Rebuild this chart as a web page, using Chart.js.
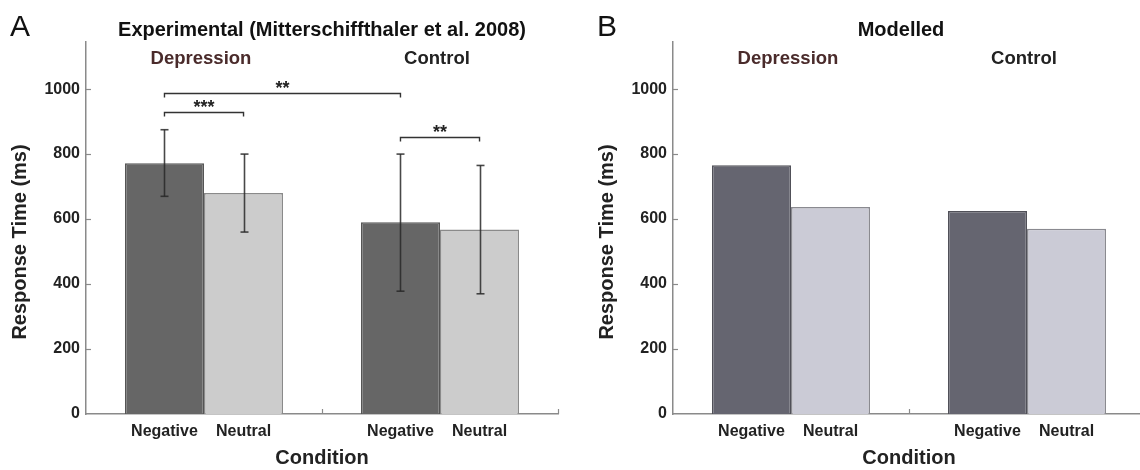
<!DOCTYPE html>
<html>
<head>
<meta charset="utf-8">
<script src="https://cdn.jsdelivr.net/npm/chart.js@4/dist/chart.umd.min.js"></script>
<style>
  body { margin: 0; width: 1140px; height: 470px; overflow: hidden; background: #fff; position: relative; }
  canvas { position: absolute; top: 0; }
  #chartA { left: 0; }
  #chartB { left: 587px; }
</style>
</head>
<body>
<canvas id="chartA" width="570" height="470"></canvas>
<canvas id="chartB" width="570" height="470"></canvas>
<script>
// groups and conditions
const groups = ['Depression', 'Control'];
const conditions = ['Negative', 'Neutral'];

// experimental data (ms)
const expNegative = [772, 590];
const expNeutral = [680, 568];
const expNegativeErr = [[670, 875], [378, 800]];
const expNeutralErr = [[560, 800], [370, 765]];

// significance brackets: [dataset, index, dataset, index, level, stars]
const expSig = [
  [0, 0, 0, 1, 988, '**'],
  [0, 0, 1, 0, 930, '***'],
  [0, 1, 1, 1, 852, '**']
];

// modelled data (ms)
const modNegative = [766, 625];
const modNeutral = [637, 570];

const yTicks = [0, 200, 400, 600, 800, 1000];
const yMax = 1145;

const FONT = '"Liberation Sans", Arial, sans-serif';

function makePanel(id, letter, title, titleShift, neg, neu, colors, errs, sig) {
  const extras = {
    id: 'extras',
    afterDraw(chart) {
      const ctx = chart.ctx, a = chart.chartArea;
      const xs = chart.scales.x, ys = chart.scales.y;
      const line = (x1, y1, x2, y2) => { ctx.beginPath(); ctx.moveTo(x1, y1); ctx.lineTo(x2, y2); ctx.stroke(); };
      ctx.save();

      // little inward tick marks
      ctx.strokeStyle = '#8a8a8a';
      ctx.lineWidth = 1.2;
      yTicks.forEach(v => {
        const py = Math.round(ys.getPixelForValue(v)) + 0.5;
        if (v > 0) line(a.left, py, a.left + 5, py);
      });
      for (let i = 1; i <= groups.length; i++) {
        const px = Math.round(a.left + (a.right - a.left) * i / groups.length) + 0.5;
        line(px, a.bottom, px, a.bottom - 5);
      }

      // error bars
      if (errs) {
        ctx.strokeStyle = 'rgba(40,40,40,0.85)';
        ctx.lineWidth = 1.6;
        errs.forEach((set, d) => {
          const meta = chart.getDatasetMeta(d);
          set.forEach((r, i) => {
            const bx = Math.round(meta.data[i].x) + 0.5;
            const lo = ys.getPixelForValue(r[0]), hi = ys.getPixelForValue(r[1]);
            line(bx, lo, bx, hi);
            line(bx - 4, lo, bx + 4, lo);
            line(bx - 4, hi, bx + 4, hi);
          });
        });
      }

      // significance brackets
      if (sig) {
        ctx.strokeStyle = '#333';
        ctx.lineWidth = 1.4;
        ctx.fillStyle = '#222';
        ctx.font = 'bold 18px ' + FONT;
        ctx.textAlign = 'center';
        ctx.textBaseline = 'middle';
        sig.forEach(s => {
          const x1 = chart.getDatasetMeta(s[0]).data[s[1]].x;
          const x2 = chart.getDatasetMeta(s[2]).data[s[3]].x;
          const py = Math.round(ys.getPixelForValue(s[4])) + 0.5;
          ctx.beginPath();
          ctx.moveTo(x1, py + 4); ctx.lineTo(x1, py); ctx.lineTo(x2, py); ctx.lineTo(x2, py + 4);
          ctx.stroke();
          ctx.fillText(s[5], (x1 + x2) / 2, py - 4);
        });
      }

      // labels under each bar
      ctx.fillStyle = '#222';
      ctx.font = 'bold 16px ' + FONT;
      ctx.textAlign = 'center';
      ctx.textBaseline = 'middle';
      conditions.forEach((c, d) => {
        chart.getDatasetMeta(d).data.forEach(bar => ctx.fillText(c, bar.x, a.bottom + 18));
      });
      ctx.font = 'bold 20px ' + FONT;
      ctx.fillText('Condition', (a.left + a.right) / 2, a.bottom + 44);

      // group names
      ctx.font = 'bold 18.5px ' + FONT;
      groups.forEach((g, i) => {
        ctx.fillStyle = i === 0 ? '#4a2b2b' : '#222';
        ctx.fillText(g, xs.getPixelForValue(i) - 3, a.top + 17);
      });

      // title and panel letter
      ctx.fillStyle = '#111';
      ctx.font = 'bold 20px ' + FONT;
      ctx.fillText(title, (a.left + a.right) / 2 + titleShift, 30);
      ctx.textAlign = 'left';
      ctx.font = '30px ' + FONT;
      ctx.fillText(letter, 10, 28);

      // y axis title
      ctx.fillStyle = '#222';
      ctx.font = 'bold 20px ' + FONT;
      ctx.translate(20, 242);
      ctx.rotate(-Math.PI / 2);
      ctx.textAlign = 'center';
      ctx.fillText('Response Time (ms)', 0, 0);
      ctx.restore();
    }
  };

  return new Chart(document.getElementById(id), {
    type: 'bar',
    data: {
      labels: groups,
      datasets: [
        { label: conditions[0], data: neg, backgroundColor: colors[0], borderColor: colors[1], borderWidth: 1.5 },
        { label: conditions[1], data: neu, backgroundColor: colors[2], borderColor: colors[3], borderWidth: 1.5 }
      ]
    },
    options: {
      responsive: false,
      animation: false,
      layout: { padding: { top: 42, right: 12, left: 0, bottom: 0 } },
      plugins: { legend: { display: false }, tooltip: { enabled: false }, title: { display: false } },
      datasets: { bar: { barPercentage: 1, categoryPercentage: 0.67 } },
      scales: {
        x: {
          grid: { display: false, drawTicks: false },
          border: { color: '#8a8a8a', width: 1.5 },
          ticks: { display: false },
          afterFit: s => { s.height = 56; }
        },
        y: {
          min: 0,
          max: yMax,
          grid: { display: false, drawTicks: false, tickLength: 0 },
          border: { color: '#8a8a8a', width: 1.5 },
          ticks: {
            stepSize: 200, padding: 6, color: '#222',
            font: { family: FONT, size: 16, weight: 'bold' },
            callback: v => String(v)
          },
          afterBuildTicks: s => { s.ticks = s.ticks.filter(t => yTicks.includes(t.value)); },
          afterFit: s => { s.width = 86; }
        }
      }
    },
    plugins: [extras]
  });
}

makePanel('chartA', 'A', 'Experimental (Mitterschiffthaler et al. 2008)', 0, expNegative, expNeutral,
  ['#666666', '#555555', '#cccccc', '#8a8a8a'], [expNegativeErr, expNeutralErr], expSig);
makePanel('chartB', 'B', 'Modelled', -8, modNegative, modNeutral,
  ['#656570', '#505058', '#cbcbd6', '#8a8a90'], null, null);
</script>
</body>
</html>
